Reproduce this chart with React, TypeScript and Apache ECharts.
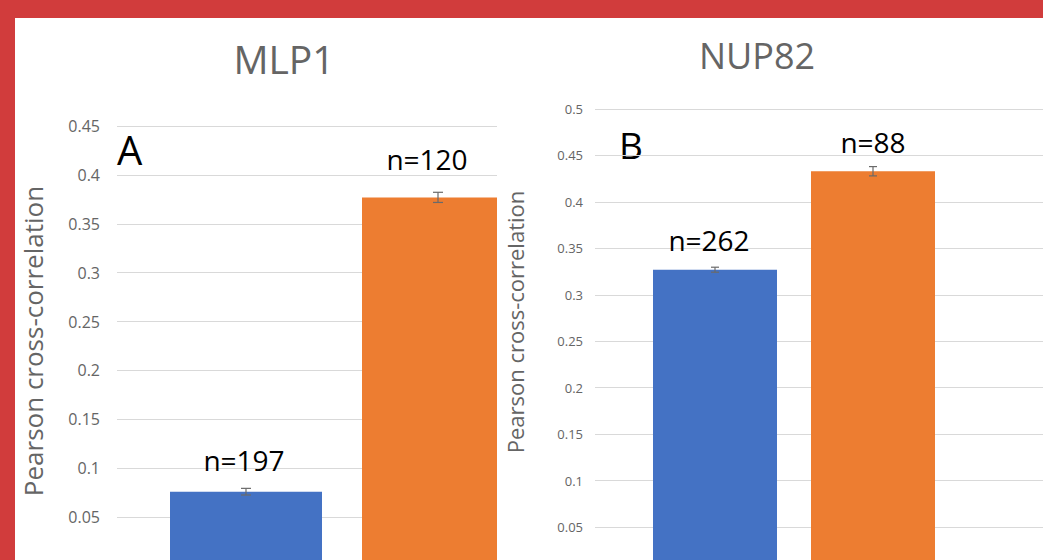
import React, { useEffect, useRef } from "react";
import * as echarts from "echarts";

// ---- Panel A : MLP1 ----
const mlpCategories = ["MLP1"];
const mlpGroups = ["Group 1", "Group 2"];
const mlpValues = [0.076, 0.377];
const mlpErrors = [0.0034, 0.0052];
const mlpCounts = [197, 120];
const mlpAxis = [0, 0.45, 0.05]; // min, max, interval

// ---- Panel B : NUP82 ----
const nupCategories = ["NUP82", ""];
const nupGroups = ["Group 1", "Group 2"];
const nupValues = [0.327, 0.433];
const nupErrors = [0.0027, 0.005];
const nupCounts = [262, 88];
const nupAxis = [0, 0.5, 0.05];

const axisTitle = "Pearson cross-correlation";
const BAR_COLORS = ["#4472C4", "#ED7D31"];
const FONT = "'Open Sans', 'Noto Sans', sans-serif";
const GRAY = "#656565";

type PanelCfg = {
  title: string;
  letter: string;
  categories: string[];
  groups: string[];
  values: number[];
  errors: number[];
  counts: number[];
  axis: number[];
  width: number;
  height: number;
  grid: { left: number; top: number; width: number; height: number };
  barWidth: number;
  barGapPx: number;
  tickFont: number;
  tickMargin: number;
  titlePos: [number, number];
  titleFont: number;
  letterPos: [number, number];
  letterFont: number;
  namePos: [number, number];
  nameFont: number;
  labelFont: number;
  labelDist: number[];
  labelDx: number[];
  capHalf: number;
};

function textEl(text: string, x: number, y: number, size: number, fill: string, align: string, rotation = 0) {
  return {
    type: "text",
    x,
    y,
    rotation,
    style: {
      text,
      fill,
      fontSize: size,
      fontFamily: FONT,
      textAlign: align,
      align,
      textVerticalAlign: "middle",
      verticalAlign: "middle",
    },
  };
}

function buildOption(cfg: PanelCfg) {
  const n = cfg.groups.length;
  const step = cfg.barWidth + cfg.barGapPx;
  const bars = cfg.groups.map((g, i) => ({
    type: "bar",
    name: g,
    data: cfg.categories.map((_, c) => (c === 0 ? cfg.values[i] : "-")),
    barWidth: cfg.barWidth,
    barGap: (cfg.barGapPx / cfg.barWidth) * 100 + "%",
    itemStyle: { color: BAR_COLORS[i] },
    label: {
      show: true,
      position: "top",
      distance: cfg.labelDist[i],
      offset: [cfg.labelDx[i], 0],
      formatter: () => `n=${cfg.counts[i]}`,
      color: "#000",
      fontSize: cfg.labelFont,
      fontFamily: FONT,
    },
    z: 2,
  }));
  const errorSeries = {
    type: "custom",
    name: "error",
    data: cfg.values.map((v, i) => [0, v - cfg.errors[i], v + cfg.errors[i], i]),
    encode: { x: 0, y: [1, 2] },
    z: 5,
    renderItem: (_p: any, api: any) => {
      const i = api.value(3);
      const shift = (i - (n - 1) / 2) * step;
      const lo = api.coord([api.value(0), api.value(1)]);
      const hi = api.coord([api.value(0), api.value(2)]);
      const x = lo[0] + shift;
      const st = { stroke: "#6a6a6a", lineWidth: 1.2 };
      return {
        type: "group",
        children: [
          { type: "line", shape: { x1: x, y1: lo[1], x2: x, y2: hi[1] }, style: st },
          { type: "line", shape: { x1: x - cfg.capHalf, y1: hi[1], x2: x + cfg.capHalf, y2: hi[1] }, style: st },
          { type: "line", shape: { x1: x - cfg.capHalf, y1: lo[1], x2: x + cfg.capHalf, y2: lo[1] }, style: st },
        ],
      };
    },
  };
  return {
    animation: false,
    backgroundColor: "#ffffff",
    grid: { ...cfg.grid, containLabel: false },
    xAxis: {
      type: "category",
      data: cfg.categories,
      axisLine: { show: false },
      axisTick: { show: false },
      axisLabel: { show: false },
      splitLine: { show: false },
    },
    yAxis: {
      type: "value",
      min: cfg.axis[0],
      max: cfg.axis[1],
      interval: cfg.axis[2],
      axisLine: { show: false },
      axisTick: { show: false },
      splitLine: { show: true, lineStyle: { color: "#D9D9D9", width: 1 } },
      axisLabel: {
        color: GRAY,
        fontSize: cfg.tickFont,
        fontFamily: FONT,
        margin: cfg.tickMargin,
        showMinLabel: false,
      },
    },
    graphic: [
      textEl(cfg.title, cfg.titlePos[0], cfg.titlePos[1], cfg.titleFont, GRAY, "center"),
      textEl(cfg.letter, cfg.letterPos[0], cfg.letterPos[1], cfg.letterFont, "#000", "left"),
      textEl(axisTitle, cfg.namePos[0], cfg.namePos[1], cfg.nameFont, GRAY, "center", Math.PI / 2),
    ],
    series: [...bars, errorSeries],
  };
}

const panelA: PanelCfg = {
  title: "MLP1",
  letter: "A",
  categories: mlpCategories,
  groups: mlpGroups,
  values: mlpValues,
  errors: mlpErrors,
  counts: mlpCounts,
  axis: mlpAxis,
  width: 600,
  height: 620,
  grid: { left: 102, top: 108, width: 450, height: 440 },
  barWidth: 152,
  barGapPx: 40,
  tickFont: 16,
  tickMargin: 17,
  titlePos: [269, 40],
  titleFont: 39,
  letterPos: [102, 131],
  letterFont: 40,
  namePos: [18, 323],
  nameFont: 26,
  labelFont: 28,
  labelDist: [18, 24],
  labelDx: [-2, -11],
  capHalf: 5,
};

const panelB: PanelCfg = {
  title: "NUP82",
  letter: "B",
  categories: nupCategories,
  groups: nupGroups,
  values: nupValues,
  errors: nupErrors,
  counts: nupCounts,
  axis: nupAxis,
  width: 900,
  height: 620,
  grid: { left: 98, top: 91, width: 796, height: 464.5 },
  barWidth: 124,
  barGapPx: 34,
  tickFont: 13,
  tickMargin: 12,
  titlePos: [260, 37],
  titleFont: 36,
  letterPos: [122, 126],
  letterFont: 37,
  namePos: [18, 304],
  nameFont: 22,
  labelFont: 28,
  labelDist: [16, 15],
  labelDx: [-6, 0],
  capHalf: 4,
};

function Panel({ cfg, left, top, w, h }: { cfg: PanelCfg; left: number; top: number; w: number; h: number }) {
  const ref = useRef<HTMLDivElement>(null);
  useEffect(() => {
    if (!ref.current) return;
    const chart = echarts.init(ref.current, undefined, { renderer: "svg" });
    chart.setOption(buildOption(cfg) as any);
    return () => chart.dispose();
  }, [cfg]);
  return (
    <div
      style={{
        position: "absolute",
        left,
        top,
        width: w,
        height: h,
        overflow: "hidden",
        background: "#fff",
      }}
    >
      <div ref={ref} style={{ position: "absolute", left: 0, top: 0, width: cfg.width, height: cfg.height }} />
    </div>
  );
}

export default function App() {
  return (
    <div
      style={{
        position: "fixed",
        left: 0,
        top: 0,
        width: 1043,
        height: 560,
        overflow: "hidden",
        background: "#D13C3C",
      }}
    >
      <Panel cfg={panelB} left={497} top={18} w={546} h={542} />
      <Panel cfg={panelA} left={15} top={18} w={482} h={542} />
    </div>
  );
}
